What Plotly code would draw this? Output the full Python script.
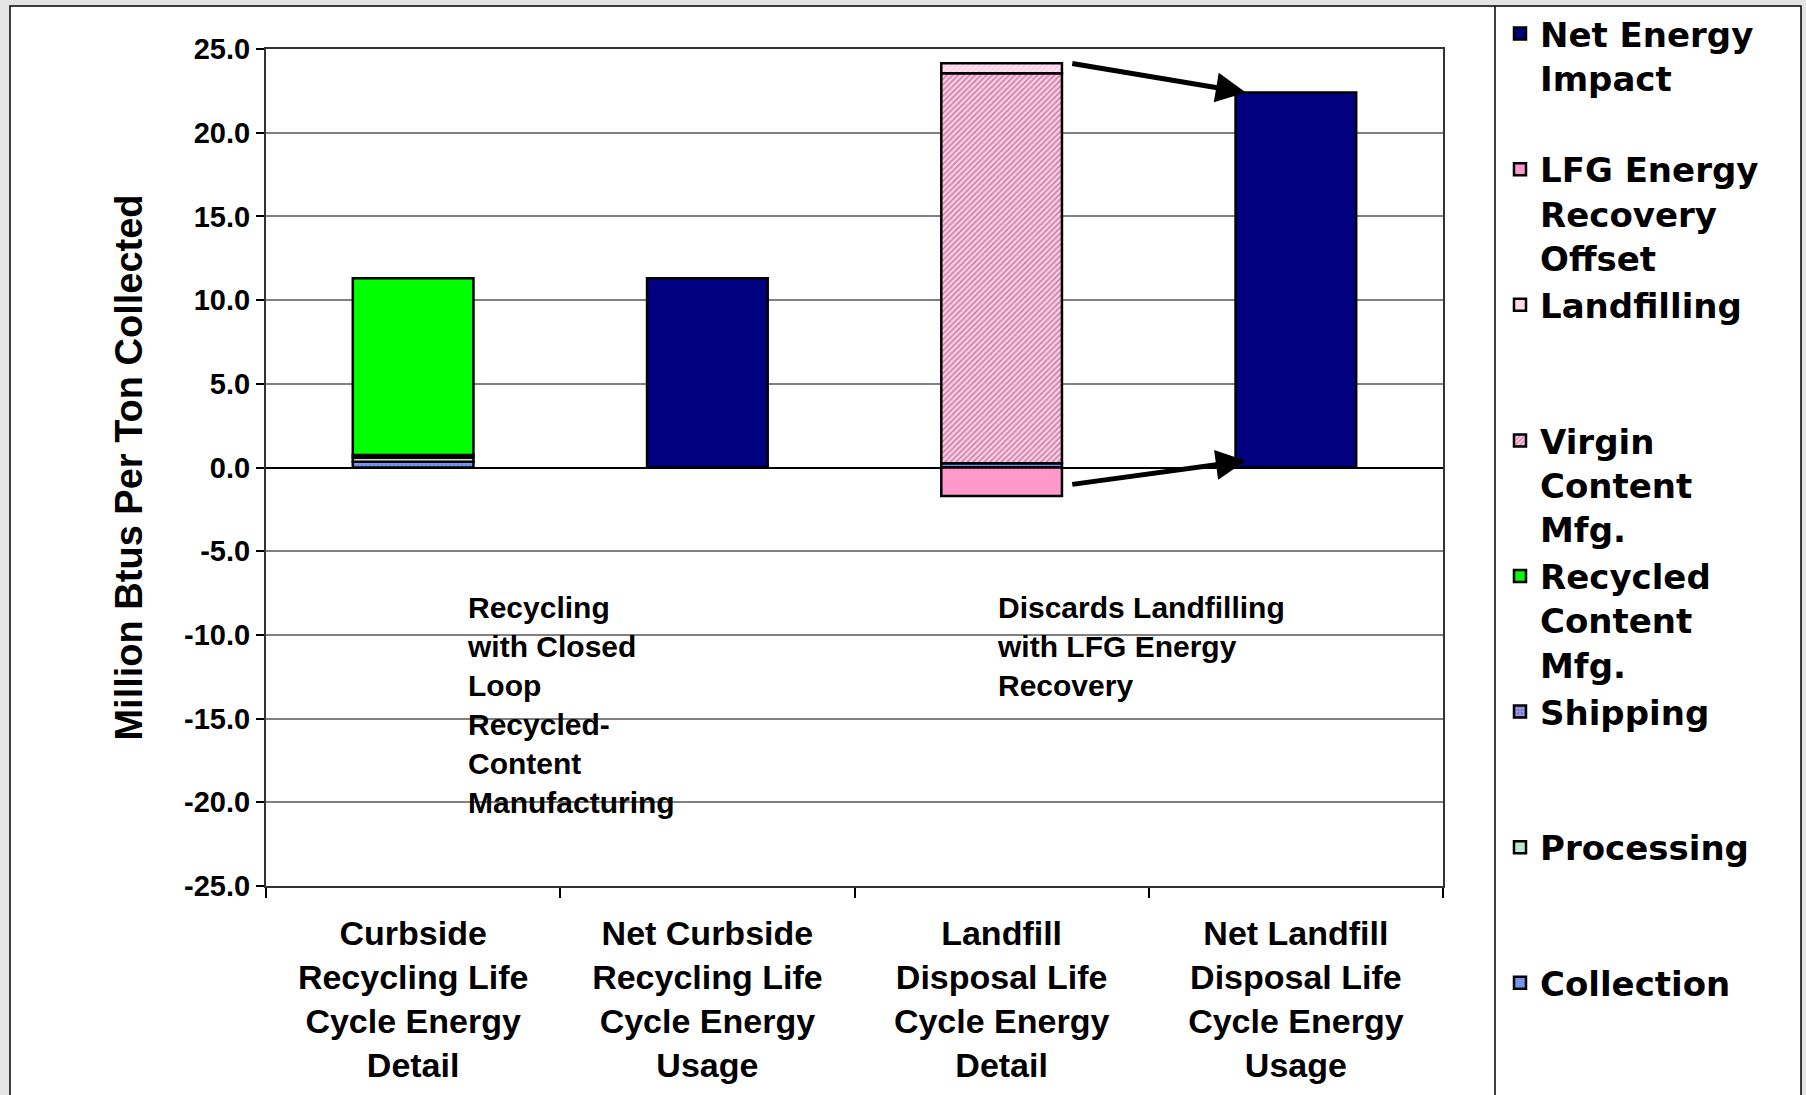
import plotly.graph_objects as go

# ---------------- data ----------------
categories = [
    "Curbside<br>Recycling Life<br>Cycle Energy<br>Detail",
    "Net Curbside<br>Recycling Life<br>Cycle Energy<br>Usage",
    "Landfill<br>Disposal Life<br>Cycle Energy<br>Detail",
    "Net Landfill<br>Disposal Life<br>Cycle Energy<br>Usage",
]
collection = [0.35, None, 0.25, None]
processing = [0.25, None, None, None]
shipping = [0.15, None, None, None]
recycled_mfg = [10.55, None, None, None]
virgin_mfg = [None, None, 23.3, None]
landfilling = [None, None, 0.6, None]
lfg_offset = [None, None, -1.7, None]
net_energy = [None, 11.3, None, 22.4]

y_ticks = [25, 20, 15, 10, 5, 0, -5, -10, -15, -20, -25]
y_tick_text = ["25.0", "20.0", "15.0", "10.0", "5.0", "0.0", "-5.0", "-10.0", "-15.0", "-20.0", "-25.0"]

series_names = [
    "Collection<br> <br> ",
    "Processing<br> <br> ",
    "Shipping<br> <br> ",
    "Recycled<br>Content<br>Mfg.",
    "Virgin<br>Content<br>Mfg.",
    "Landfilling<br> <br> ",
    "LFG Energy<br>Recovery<br>Offset",
    "Net Energy<br>Impact<br> ",
]
series_values = [collection, processing, shipping, recycled_mfg,
                 virgin_mfg, landfilling, lfg_offset, net_energy]

# ---------------- styles ----------------
styles = [
    dict(color="#6a8cec", pattern=dict(shape="+", bgcolor="#6a8cec", fgcolor="#c8d6ff", size=4, solidity=0.25)),
    dict(color="#bfe6cf", pattern=dict(shape="+", bgcolor="#c6ead6", fgcolor="#8fc4a4", size=4, solidity=0.2)),
    dict(color="#8c8cd6", pattern=dict(shape=".", bgcolor="#9a9ae0", fgcolor="#3a3a99", size=4, solidity=0.3)),
    dict(color="#00ff00"),
    dict(color="#d080a8", pattern=dict(shape="/", bgcolor="#ffd0e8", fgcolor="#993366", size=4, solidity=0.45)),
    dict(color="#ffd6ea", pattern=dict(shape="/", bgcolor="#ffe4f2", fgcolor="#ff99cc", size=4, solidity=0.3)),
    dict(color="#ff99cc"),
    dict(color="#000080"),
]

W, H = 1806, 1095
PL, PR, PT, PB = 266, 1443, 49, 886  # plot area in px


def px_x(px):
    return (px - PL) / (PR - PL)


def px_y(py):
    return (PB - py) / (PB - PT)


fig = go.Figure()
for name, vals, st in zip(series_names, series_values, styles):
    marker = dict(color=st["color"], line=dict(color="black", width=2.5))
    if "pattern" in st:
        marker["pattern"] = st["pattern"]
    fig.add_trace(go.Bar(x=categories, y=vals, name=name, marker=marker))

# arrows derived from the data
half = 0.205
top_detail = sum(v[2] for v in [collection, virgin_mfg, landfilling] if v[2] is not None)
fig.add_annotation(x=3 - half + 0.035, y=net_energy[3], ax=2 + half + 0.03, ay=top_detail,
                   xref="x", yref="y", axref="x", ayref="y", text="", showarrow=True,
                   arrowhead=2, arrowsize=1.2, arrowwidth=5, arrowcolor="black")
fig.add_annotation(x=3 - half + 0.035, y=0.4, ax=2 + half + 0.03, ay=lfg_offset[2] * 0.6,
                   xref="x", yref="y", axref="x", ayref="y", text="", showarrow=True,
                   arrowhead=2, arrowsize=1.2, arrowwidth=5, arrowcolor="black")

txt_font = dict(family="Liberation Sans, Arial, sans-serif", size=30, color="black", weight="bold")
fig.add_annotation(x=0.177, y=-7.25, xref="x", yref="y", xanchor="left", yanchor="top", align="left",
                   showarrow=False, font=txt_font,
                   text="Recycling<br>with Closed<br>Loop<br>Recycled-<br>Content<br>Manufacturing")
fig.add_annotation(x=1.979, y=-7.25, xref="x", yref="y", xanchor="left", yanchor="top", align="left",
                   showarrow=False, font=txt_font,
                   text="Discards Landfilling<br>with LFG Energy<br>Recovery")

# chart frame and legend frame
fig.add_shape(type="rect", xref="paper", yref="paper", layer="below",
              x0=px_x(10), x1=px_x(1801), y0=px_y(1120), y1=px_y(6),
              fillcolor="white", line=dict(color="black", width=1.5))
fig.add_shape(type="line", xref="paper", yref="paper", layer="below",
              x0=px_x(1495), x1=px_x(1495), y0=px_y(1120), y1=px_y(6),
              line=dict(color="black", width=1.5))

axis_font = dict(family="Liberation Sans, Arial, sans-serif", size=29, color="black", weight="bold")
fig.update_layout(
    width=W, height=H,
    margin=dict(l=PL, r=W - PR, t=PT, b=H - PB, autoexpand=False),
    paper_bgcolor="#e4e4e4",
    plot_bgcolor="white",
    barmode="relative",
    bargap=0.59,
    showlegend=True,
    legend=dict(
        x=px_x(1500), y=px_y(5), xanchor="left", yanchor="top",
        traceorder="reversed", valign="top", maxheight=3000,
        font=dict(family="DejaVu Sans, sans-serif", size=34, color="black", weight="bold"),
        bgcolor="rgba(0,0,0,0)", borderwidth=0,
    ),
    xaxis=dict(
        type="category", tickson="boundaries", ticks="outside", ticklen=10,
        tickcolor="black", tickwidth=1.5, ticklabelstandoff=16,
        showline=True, linecolor="#333333", linewidth=2, mirror=True,
        tickfont=dict(family="Liberation Sans, Arial, sans-serif", size=34, color="black", weight="bold"),
        showgrid=False,
    ),
    yaxis=dict(
        range=[-25, 25], tickvals=y_ticks, ticktext=y_tick_text,
        ticks="outside", ticklen=8, tickcolor="black", tickwidth=1.5,
        showline=True, linecolor="#333333", linewidth=2, mirror=True,
        showgrid=True, gridcolor="#808080", gridwidth=1.5,
        zeroline=True, zerolinecolor="black", zerolinewidth=1.5,
        tickfont=axis_font,
        title=dict(text="Million Btus Per Ton Collected", standoff=30,
                   font=dict(family="Liberation Sans, Arial, sans-serif", size=38, color="black", weight="bold")),
    ),
)

fig.write_html("out.html")
